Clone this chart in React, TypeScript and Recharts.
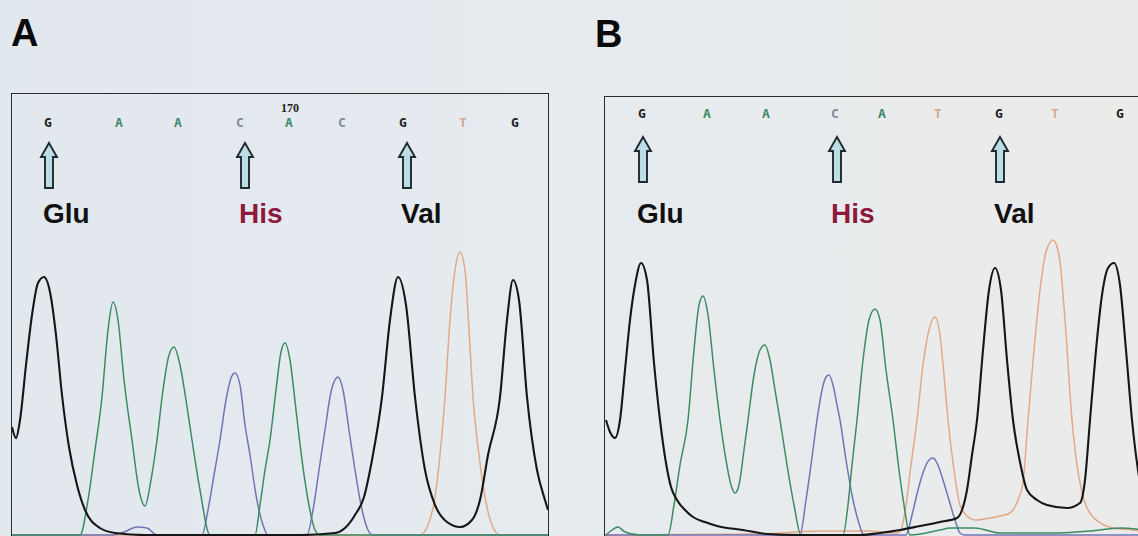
import React from 'react';
import { LineChart, Line, XAxis, YAxis, ReferenceDot } from 'recharts';

type P = { x: number; v: number };
const toPts = (arr: number[][]): P[] => arr.map(([x, v]) => ({ x, v }));

// ---------- Panel A (wild type) ----------
const basesA = ['G', 'A', 'A', 'C', 'A', 'C', 'G', 'T', 'G'];
const basePosA = [36, 107, 166, 228, 277, 330, 391, 451, 503];
const baseNumberA = { index: 4, label: '170' };
const codonsA = [
  { x: 37, label: 'Glu', color: '#111111' },
  { x: 233, label: 'His', color: '#8c1a3e' },
  { x: 395, label: 'Val', color: '#111111' },
];

const traceGA = toPts([
  [0, 108], [4, 97], [8, 115], [14, 170], [20, 220], [26, 252], [32, 258], [38, 243], [44, 200],
  [50, 140], [57, 88], [65, 50], [73, 25], [88, 7], [103, 2], [133, 0], [188, 0], [288, 0],
  [323, 2], [333, 7], [343, 20], [352, 38], [360, 75], [370, 138], [378, 215], [386, 258],
  [394, 230], [403, 138], [413, 65], [423, 30], [435, 13], [448, 8], [460, 15], [468, 35],
  [476, 80], [488, 138], [495, 215], [501, 255], [507, 235], [515, 138], [525, 65], [533, 35], [536, 25],
]);
const traceAA = toPts([
  [0, 0], [60, 0], [68, 0], [76, 35], [83, 85], [90, 138], [96, 205], [101, 233], [106, 215],
  [112, 155], [120, 95], [127, 45], [133, 29], [139, 55], [145, 95], [151, 145], [157, 180],
  [162, 188], [168, 170], [174, 135], [180, 95], [188, 45], [198, 0], [243, 0], [248, 30],
  [253, 65], [258, 95], [264, 145], [269, 183], [273, 192], [278, 175], [284, 125], [290, 75],
  [296, 35], [303, 5], [308, 0], [536, 0],
]);
const traceCA = toPts([
  [0, 0], [100, 0], [112, 3], [125, 8], [135, 7], [145, 0], [190, 0], [196, 25], [202, 60],
  [208, 95], [214, 135], [219, 157], [223, 162], [228, 150], [233, 110], [238, 80], [244, 40],
  [251, 10], [256, 0], [295, 0], [301, 25], [307, 65], [313, 105], [319, 143], [326, 158],
  [331, 145], [337, 105], [343, 65], [349, 30], [356, 5], [361, 0], [536, 0],
]);
const traceTA = toPts([
  [0, 0], [408, 0], [416, 10], [423, 38], [428, 80], [433, 138], [438, 215], [443, 265],
  [448, 283], [453, 265], [457, 205], [461, 138], [467, 80], [473, 38], [480, 10], [488, 0], [536, 0],
]);

// ---------- Panel B (mutant) ----------
const basesB = ['G', 'A', 'A', 'C', 'A', 'T', 'G', 'T', 'G'];
const basePosB = [37, 102, 161, 230, 277, 333, 394, 450, 515];
const codonsB = [
  { x: 38, label: 'Glu', color: '#111111' },
  { x: 232, label: 'His', color: '#8c1a3e' },
  { x: 395, label: 'Val', color: '#111111' },
];

const traceGB = toPts([
  [1, 115], [5, 103], [10, 97], [15, 115], [20, 165], [25, 215], [30, 250], [36, 272], [42, 255],
  [49, 172], [55, 115], [61, 72], [66, 48], [72, 35], [80, 25], [88, 18], [100, 13], [112, 9],
  [138, 5], [162, 1], [195, 0], [255, 0], [275, 2], [295, 5], [315, 9], [335, 13], [352, 17],
  [357, 25], [362, 45], [367, 80], [372, 115], [378, 185], [384, 245], [390, 267], [396, 245],
  [402, 175], [408, 115], [415, 73], [422, 45], [432, 35], [442, 30], [462, 27], [475, 32],
  [480, 55], [485, 115], [491, 185], [497, 240], [503, 267], [509, 272], [515, 250], [521, 185],
  [527, 115], [533, 65], [540, 30],
]);
const traceAB = toPts([
  [1, 0], [7, 5], [13, 8], [20, 3], [35, 0], [63, 0], [69, 30], [75, 70], [83, 115], [89, 185],
  [94, 230], [98, 239], [103, 220], [109, 165], [115, 115], [121, 75], [126, 50], [130, 42],
  [134, 50], [139, 85], [143, 115], [149, 160], [155, 185], [160, 190], [165, 175], [170, 145],
  [175, 115], [182, 70], [189, 30], [196, 0], [238, 0], [243, 30], [247, 70], [252, 115],
  [258, 175], [264, 215], [270, 226], [275, 215], [281, 165], [288, 115], [294, 65], [299, 30],
  [305, 0], [335, 5], [345, 7], [370, 7], [395, 2], [455, 2], [485, 4], [515, 7], [540, 5],
]);
const traceCB = toPts([
  [0, 0], [195, 0], [201, 35], [206, 70], [212, 115], [217, 145], [221, 158], [224, 160],
  [228, 150], [232, 130], [235, 115], [241, 75], [247, 40], [253, 15], [259, 0], [301, 0],
  [307, 20], [313, 45], [319, 65], [324, 75], [328, 77], [333, 70], [338, 55], [344, 35],
  [350, 15], [355, 2], [360, 0], [545, 0],
]);
const traceTB = toPts([
  [0, 0], [155, 1], [215, 4], [265, 4], [290, 2], [295, 3], [301, 30], [306, 70], [312, 115],
  [318, 170], [324, 205], [330, 218], [335, 200], [339, 160], [343, 115], [349, 65], [355, 30],
  [363, 18], [370, 15], [385, 17], [395, 19], [405, 22], [413, 35], [418, 52], [423, 115],
  [429, 185], [435, 245], [441, 283], [448, 295], [454, 280], [460, 215], [467, 115], [472, 70],
  [477, 43], [488, 18], [508, 7], [528, 5], [540, 3],
]);

const traceColors = { G: '#161616', A: '#3b8c63', C: '#7174b6', T: '#e4a886' };
const letterColors: Record<string, string> = { G: '#1c1c1c', A: '#3f8a64', C: '#7d8a9c', T: '#d9a88e' };

type PanelProps = {
  label: string;
  labelX: number;
  labelY: number;
  left: number;
  top: number;
  width: number;
  height: number;
  yMax: number;
  bases: string[];
  basePos: number[];
  baseLevel: number;
  number?: { index: number; label: string };
  codons: { x: number; label: string; color: string }[];
  arrowTop: number;
  textDy: number;
  g: P[];
  a: P[];
  c: P[];
  t: P[];
  borderRight: boolean;
};

const Arrow = (props: any) => {
  const { cx, cy, label, color, textDy } = props;
  if (cx == null || cy == null) return null;
  const d = `M ${cx} ${cy} L ${cx + 8} ${cy + 14} L ${cx + 4} ${cy + 14} L ${cx + 4} ${cy + 45} L ${cx - 4} ${cy + 45} L ${cx - 4} ${cy + 14} L ${cx - 8} ${cy + 14} Z`;
  return (
    <g>
      <path d={d} fill="#bcdce6" stroke="#1e2a2e" strokeWidth={1.9} strokeLinejoin="miter" />
      <text
        x={cx - 6}
        y={cy + textDy}
        fontFamily="'Liberation Sans', Arial, sans-serif"
        fontWeight="bold"
        fontSize={28}
        fill={color}
      >
        {label}
      </text>
    </g>
  );
};

const BaseLetter = (props: any) => {
  const { cx, cy, base, number } = props;
  if (cx == null || cy == null) return null;
  return (
    <g>
      <text
        x={cx}
        y={cy}
        textAnchor="middle"
        fontFamily="'DejaVu Sans Mono', 'Liberation Mono', monospace"
        fontWeight="bold"
        fontSize={13}
        fill={letterColors[base]}
      >
        {base}
      </text>
      {number ? (
        <text
          x={cx + 1}
          y={cy - 15}
          textAnchor="middle"
          fontFamily="'Liberation Serif', serif"
          fontWeight="bold"
          fontSize={12}
          fill="#1c1c1c"
        >
          {number}
        </text>
      ) : null}
    </g>
  );
};

const Panel = (p: PanelProps) => {
  return (
    <>
      <div
        style={{
          position: 'absolute',
          left: p.labelX,
          top: p.labelY,
          fontFamily: "'Liberation Sans', Arial, sans-serif",
          fontWeight: 'bold',
          fontSize: 38,
          lineHeight: '38px',
          color: '#0a0a0a',
        }}
      >
        {p.label}
      </div>
      <div style={{ position: 'absolute', left: p.left, top: p.top }}>
        <LineChart width={p.width} height={p.height} margin={{ top: 0, right: 0, bottom: 0, left: 0 }}>
          <XAxis dataKey="x" type="number" domain={[0, p.width]} hide allowDataOverflow />
          <YAxis type="number" domain={[-5, p.yMax]} hide allowDataOverflow />
          <Line data={p.t} dataKey="v" type="monotone" stroke={traceColors.T} strokeWidth={1.5} dot={false} activeDot={false} isAnimationActive={false} />
          <Line data={p.c} dataKey="v" type="monotone" stroke={traceColors.C} strokeWidth={1.5} dot={false} activeDot={false} isAnimationActive={false} />
          <Line data={p.a} dataKey="v" type="monotone" stroke={traceColors.A} strokeWidth={1.5} dot={false} activeDot={false} isAnimationActive={false} />
          <Line data={p.g} dataKey="v" type="monotone" stroke={traceColors.G} strokeWidth={2.1} dot={false} activeDot={false} isAnimationActive={false} />
          {p.bases.map((b, i) => (
            <ReferenceDot
              key={'b' + i}
              x={p.basePos[i]}
              y={p.baseLevel}
              r={0}
              ifOverflow="visible"
              shape={(sp: any) => (
                <BaseLetter
                  cx={sp.cx}
                  cy={sp.cy}
                  base={b}
                  number={p.number && p.number.index === i ? p.number.label : undefined}
                />
              )}
            />
          ))}
          {p.codons.map((cd) => (
            <ReferenceDot
              key={cd.label}
              x={cd.x}
              y={p.arrowTop}
              r={0}
              ifOverflow="visible"
              shape={(sp: any) => <Arrow cx={sp.cx} cy={sp.cy} label={cd.label} color={cd.color} textDy={p.textDy} />}
            />
          ))}
        </LineChart>
      </div>
      <div
        style={{
          position: 'absolute',
          left: p.left - 1,
          top: p.top - 1,
          width: p.borderRight ? p.width : p.width + 20,
          height: p.height + 20,
          borderTop: '1.5px solid #2b2b2b',
          borderLeft: '1.5px solid #2b2b2b',
          borderRight: p.borderRight ? '1.5px solid #2b2b2b' : 'none',
          pointerEvents: 'none',
        }}
      />
    </>
  );
};

export default function App() {
  return (
    <div
      style={{
        position: 'relative',
        width: 1138,
        height: 536,
        overflow: 'hidden',
        background: 'linear-gradient(90deg, #e1e8ee 0%, #e6ebef 50%, #ebebea 100%)',
      }}
    >
      <style>{`body{margin:0}`}</style>
      <Panel
        label="A"
        labelX={11}
        labelY={14}
        left={12}
        top={94}
        width={536}
        height={446}
        yMax={441}
        bases={basesA}
        basePos={basePosA}
        baseLevel={408}
        number={baseNumberA}
        codons={codonsA}
        arrowTop={392}
        textDy={80}
        g={traceGA}
        a={traceAA}
        c={traceCA}
        t={traceTA}
        borderRight
      />
      <Panel
        label="B"
        labelX={595}
        labelY={15}
        left={605}
        top={97}
        width={545}
        height={443}
        yMax={438}
        bases={basesB}
        basePos={basePosB}
        baseLevel={417}
        codons={codonsB}
        arrowTop={398}
        textDy={86}
        g={traceGB}
        a={traceAB}
        c={traceCB}
        t={traceTB}
        borderRight={false}
      />
    </div>
  );
}
